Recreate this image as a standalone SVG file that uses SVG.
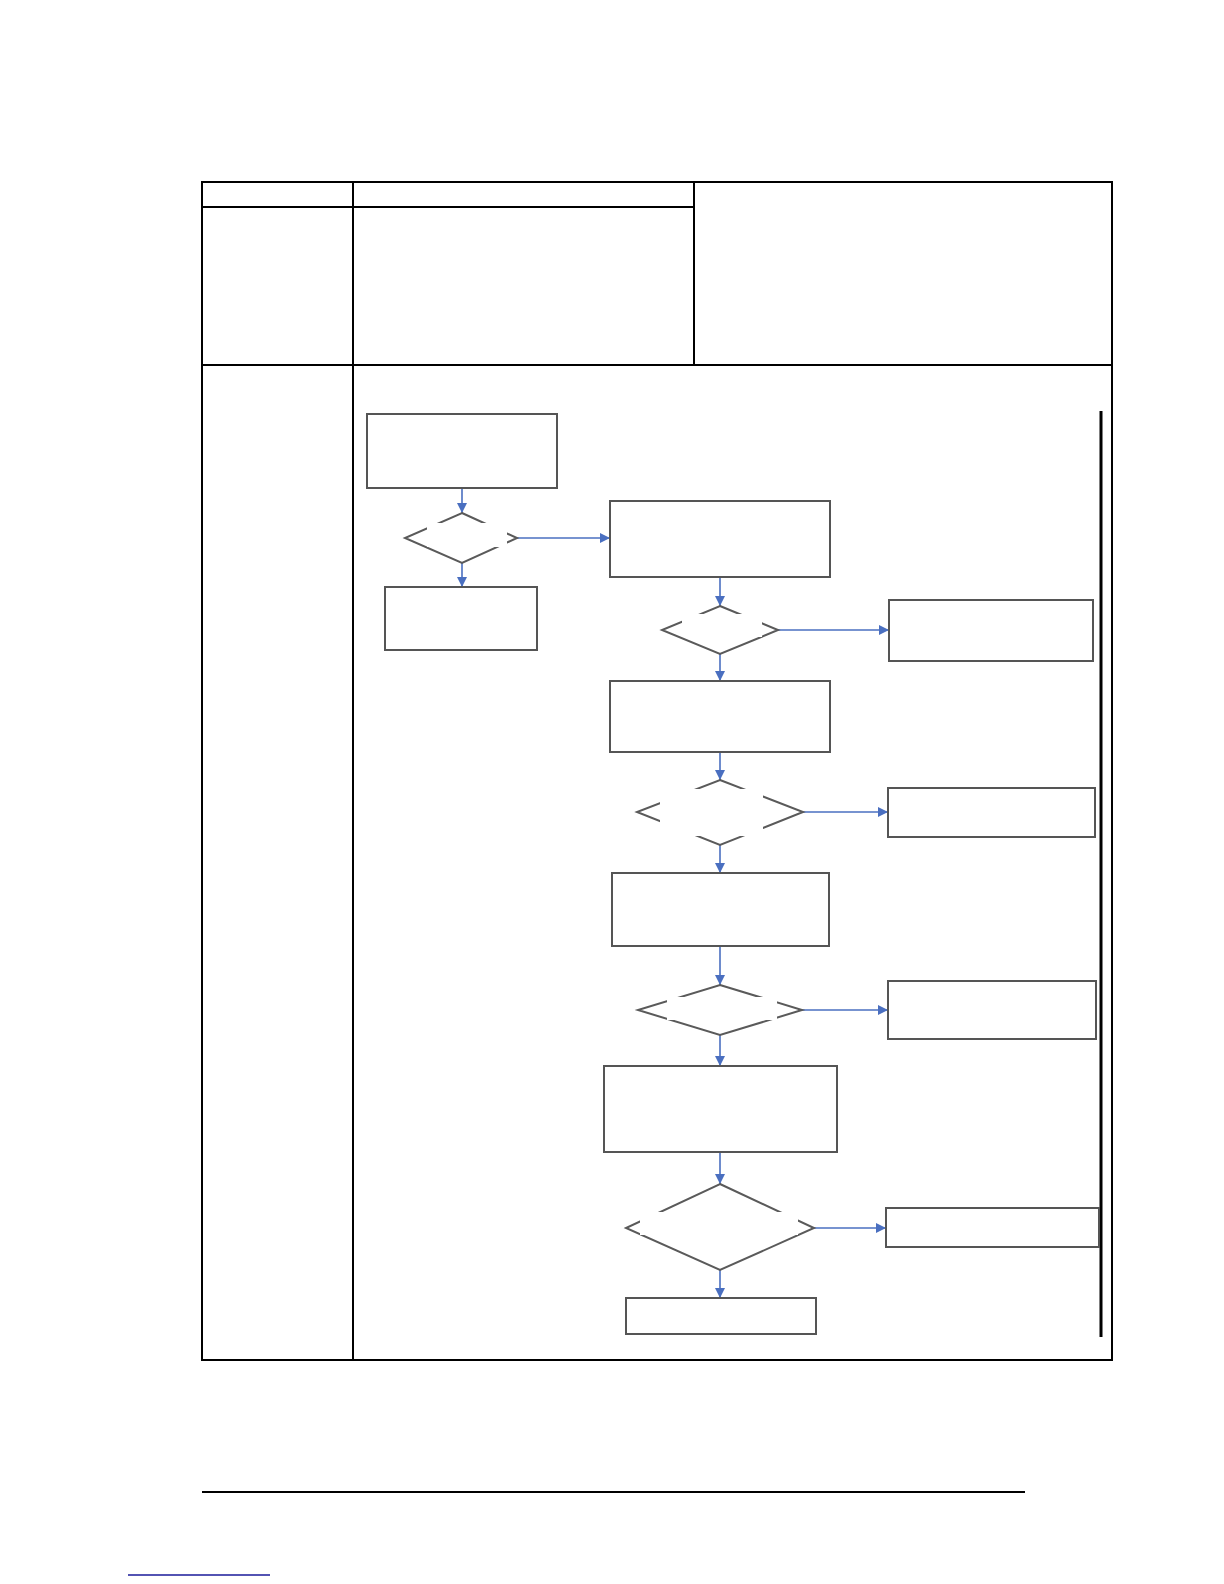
<svg xmlns="http://www.w3.org/2000/svg" width="1224" height="1584" viewBox="0 0 1224 1584">
<style>
.tbl{stroke:#000;stroke-width:2;fill:none}
.box{fill:#fff;stroke:#555;stroke-width:2}
.dia{fill:none;stroke:#5a5a5a;stroke-width:2}
.con{stroke:#4a6fc0;stroke-width:1.6;fill:none;marker-end:url(#ah)}
</style>
<defs>
<marker id="ah" viewBox="0 0 10 10" refX="10" refY="5" markerWidth="10" markerHeight="10" markerUnits="userSpaceOnUse" orient="auto">
<path d="M0,0 L10,5 L0,10 z" fill="#4a6fc0"/>
</marker>
<mask id="m1"><rect width="1224" height="1584" fill="#fff"/><rect x="427" y="523" width="80" height="24" fill="#000"/></mask>
<mask id="m2"><rect width="1224" height="1584" fill="#fff"/><rect x="682" y="614" width="80" height="23" fill="#000"/></mask>
<mask id="m3"><rect width="1224" height="1584" fill="#fff"/><rect x="660" y="789" width="103" height="47" fill="#000"/></mask>
<mask id="m4"><rect width="1224" height="1584" fill="#fff"/><rect x="667" y="997" width="110" height="23" fill="#000"/></mask>
<mask id="m5"><rect width="1224" height="1584" fill="#fff"/><rect x="640" y="1212" width="158" height="23" fill="#000"/></mask>
</defs>
<rect width="1224" height="1584" fill="#fff"/>
<g id="table">
<rect class="tbl" x="202" y="182" width="910" height="1178"/>
<line class="tbl" x1="353" y1="182" x2="353" y2="1360"/>
<line class="tbl" x1="694" y1="182" x2="694" y2="365"/>
<line class="tbl" x1="202" y1="207" x2="694" y2="207"/>
<line class="tbl" x1="202" y1="365" x2="1112" y2="365"/>
<line x1="1101" y1="411" x2="1101" y2="1337" stroke="#000" stroke-width="3"/>
</g>
<g id="connectors">
<line class="con" x1="462" y1="488" x2="462" y2="513"/>
<line class="con" x1="462" y1="563" x2="462" y2="587"/>
<line class="con" x1="517" y1="538" x2="610" y2="538"/>
<line class="con" x1="720" y1="577" x2="720" y2="606"/>
<line class="con" x1="778" y1="630" x2="889" y2="630"/>
<line class="con" x1="720" y1="654" x2="720" y2="681"/>
<line class="con" x1="720" y1="752" x2="720" y2="780"/>
<line class="con" x1="803" y1="812" x2="888" y2="812"/>
<line class="con" x1="720" y1="845" x2="720" y2="873"/>
<line class="con" x1="720" y1="946" x2="720" y2="985"/>
<line class="con" x1="802" y1="1010" x2="888" y2="1010"/>
<line class="con" x1="720" y1="1035" x2="720" y2="1066"/>
<line class="con" x1="720" y1="1152" x2="720" y2="1184"/>
<line class="con" x1="814" y1="1228" x2="886" y2="1228"/>
<line class="con" x1="720" y1="1270" x2="720" y2="1298"/>
</g>
<g id="box1"><rect class="box" x="367" y="414" width="190" height="74"/></g>
<g id="dia1"><polygon class="dia" mask="url(#m1)" points="462,513 517,538 462,563 405,538"/></g>
<g id="box2"><rect class="box" x="385" y="587" width="152" height="63"/></g>
<g id="box3"><rect class="box" x="610" y="501" width="220" height="76"/></g>
<g id="dia2"><polygon class="dia" mask="url(#m2)" points="720,606 778,630 720,654 662,630"/></g>
<g id="boxR1"><rect class="box" x="889" y="600" width="204" height="61"/></g>
<g id="box4"><rect class="box" x="610" y="681" width="220" height="71"/></g>
<g id="dia3"><polygon class="dia" mask="url(#m3)" points="720,780 803,812 720,845 637,812"/></g>
<g id="boxR2"><rect class="box" x="888" y="788" width="207" height="49"/></g>
<g id="box5"><rect class="box" x="612" y="873" width="217" height="73"/></g>
<g id="dia4"><polygon class="dia" mask="url(#m4)" points="720,985 802,1010 720,1035 638,1010"/></g>
<g id="boxR3"><rect class="box" x="888" y="981" width="208" height="58"/></g>
<g id="box6"><rect class="box" x="604" y="1066" width="233" height="86"/></g>
<g id="dia5"><polygon class="dia" mask="url(#m5)" points="720,1184 814,1228 720,1270 626,1228"/></g>
<g id="boxR4"><rect class="box" x="886" y="1208" width="213" height="39"/></g>
<g id="box7"><rect class="box" x="626" y="1298" width="190" height="36"/></g>
<g id="footer">
<line x1="202" y1="1492" x2="1025" y2="1492" stroke="#000" stroke-width="2"/>
<line x1="128" y1="1575" x2="270" y2="1575" stroke="#1a1a9a" stroke-width="1.5"/>
</g>
</svg>
